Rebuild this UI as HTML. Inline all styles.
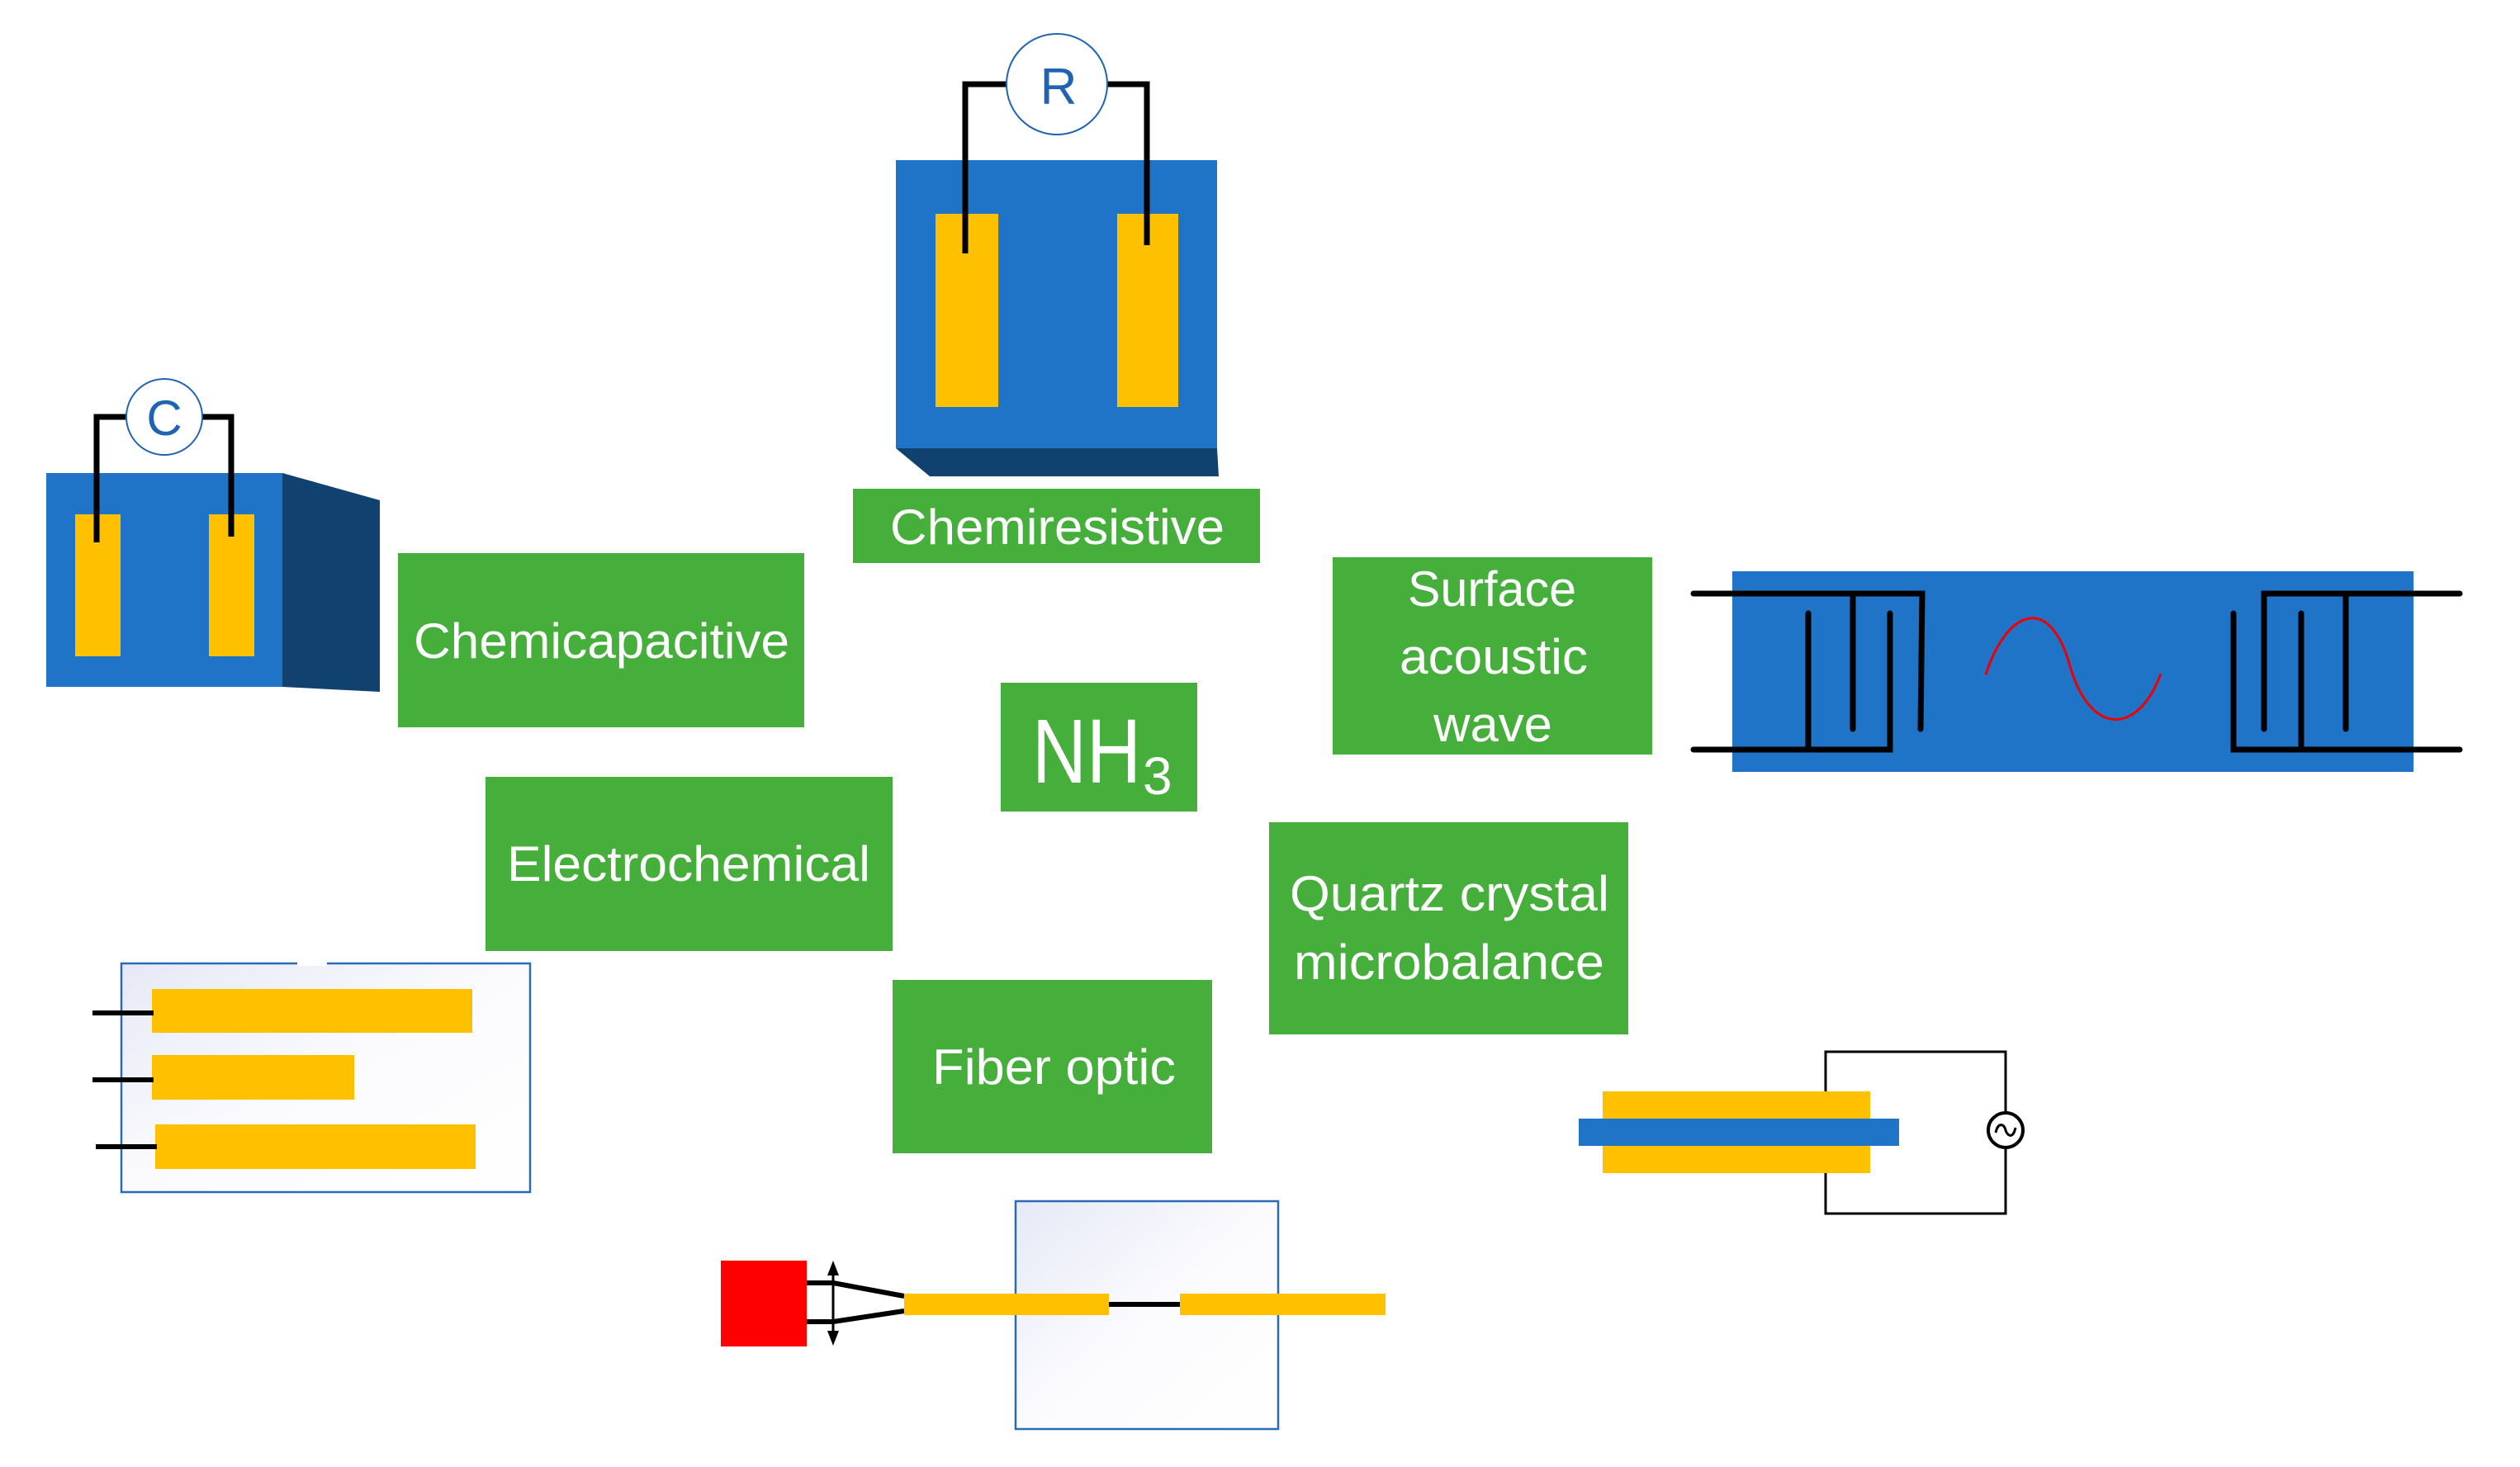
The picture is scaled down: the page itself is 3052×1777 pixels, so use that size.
<!DOCTYPE html>
<html><head><meta charset="utf-8"><style>html,body{margin:0;padding:0;background:#fff}svg{display:block}</style></head>
<body>
<svg width="3052" height="1777" viewBox="0 0 3052 1777" xmlns="http://www.w3.org/2000/svg" font-family="Liberation Sans, sans-serif">
<defs>
<linearGradient id="g" x1="0" y1="0" x2="1" y2="1"><stop offset="0" stop-color="#e6e9f6"/><stop offset="0.5" stop-color="#fbfbfe"/><stop offset="1" stop-color="#ffffff"/></linearGradient>
</defs>
<!-- Chemicapacitive sensor -->
<polygon points="342,573 460,606 460,838 342,832" fill="#10416f"/>
<rect x="56" y="573" width="286" height="259" fill="#1f74c8"/>
<rect x="91" y="623" width="55" height="172" fill="#ffc000"/>
<rect x="253" y="623" width="55" height="172" fill="#ffc000"/>
<polyline points="117,657 117,505 153,505" fill="none" stroke="#000" stroke-width="7"/>
<polyline points="280,650 280,505 245,505" fill="none" stroke="#000" stroke-width="7"/>
<circle cx="199" cy="505" r="46" fill="#fff" stroke="#1f64b4" stroke-width="2"/>
<text x="199" y="527" font-size="60" fill="#1f64b4" text-anchor="middle">C</text>
<!-- Chemiresistive sensor -->
<polygon points="1085,543 1474,543 1476,577 1126,577" fill="#10416f"/>
<rect x="1085" y="194" width="389" height="349" fill="#1f74c8"/>
<rect x="1133" y="259" width="76" height="234" fill="#ffc000"/>
<rect x="1353" y="259" width="74" height="234" fill="#ffc000"/>
<polyline points="1169,307 1169,102 1220,102" fill="none" stroke="#000" stroke-width="7"/>
<polyline points="1389,297 1389,102 1340,102" fill="none" stroke="#000" stroke-width="7"/>
<circle cx="1280" cy="102" r="61" fill="#fff" stroke="#1f64b4" stroke-width="2"/>
<text x="1282" y="126" font-size="62" fill="#1f64b4" text-anchor="middle">R</text>
<!-- Green labels -->
<g fill="#46af3c">
<rect x="1033" y="592" width="493" height="90"/>
<rect x="482" y="670" width="492" height="211"/>
<rect x="1212" y="827" width="238" height="156"/>
<rect x="1614" y="675" width="387" height="239"/>
<rect x="588" y="941" width="493" height="211"/>
<rect x="1537" y="996" width="435" height="257"/>
<rect x="1081" y="1187" width="387" height="210"/>
</g>
<g fill="#fff" font-size="60">
<text x="1078" y="659" textLength="405" lengthAdjust="spacingAndGlyphs">Chemiresistive</text>
<text x="501" y="797" textLength="455" lengthAdjust="spacingAndGlyphs">Chemicapacitive</text>
<text x="1705" y="734" textLength="204" lengthAdjust="spacingAndGlyphs">Surface</text>
<text x="1695" y="816" textLength="228" lengthAdjust="spacingAndGlyphs">acoustic</text>
<text x="1736" y="898" textLength="144" lengthAdjust="spacingAndGlyphs">wave</text>
<text x="614" y="1067" textLength="440" lengthAdjust="spacingAndGlyphs">Electrochemical</text>
<text x="1562" y="1103" textLength="387" lengthAdjust="spacingAndGlyphs">Quartz crystal</text>
<text x="1567" y="1186" textLength="376" lengthAdjust="spacingAndGlyphs">microbalance</text>
<text x="1129" y="1313" textLength="295" lengthAdjust="spacingAndGlyphs">Fiber optic</text>
<text x="1250" y="948" font-size="110" textLength="132" lengthAdjust="spacingAndGlyphs">NH</text>
<text x="1384" y="962" font-size="64">3</text>
</g>
<!-- SAW -->
<rect x="2098" y="692" width="825" height="243" fill="#1f74c8"/>
<g fill="none" stroke="#000" stroke-width="7" stroke-linecap="round">
<polyline points="2051,719 2328,719 2326,883"/>
<line x1="2244" y1="719" x2="2244" y2="883"/>
<polyline points="2051,908 2289,908 2289,743"/>
<line x1="2190" y1="743" x2="2190" y2="908"/>
<polyline points="2979,719 2742,719 2742,883"/>
<line x1="2841" y1="719" x2="2841" y2="883"/>
<polyline points="2979,908 2705,908 2705,743"/>
<line x1="2787" y1="743" x2="2787" y2="908"/>
</g>
<path d="M2405,817 C2430,740 2480,720 2505,800 C2530,895 2590,890 2617,816" fill="none" stroke="#e00" stroke-width="3"/>
<!-- QCM -->
<g fill="none" stroke="#000" stroke-width="3">
<polyline points="2211,1322 2211,1274 2429,1274 2429,1347"/>
<polyline points="2211,1421 2211,1470 2429,1470 2429,1391"/>
<circle cx="2429" cy="1369" r="21" stroke-width="4" fill="#fff"/>
<path d="M2417,1372 C2420,1358 2428,1362 2429,1369 C2431,1376 2438,1380 2441,1366"/>
</g>
<rect x="1941" y="1322" width="324" height="33" fill="#ffc000"/>
<rect x="1941" y="1388" width="324" height="33" fill="#ffc000"/>
<rect x="1912" y="1355" width="388" height="33" fill="#1f74c8"/>
<!-- Electrochemical sensor -->
<rect x="147" y="1167" width="495" height="277" fill="url(#g)" stroke="#2a6ab8" stroke-width="2.5"/>
<rect x="360" y="1164" width="36" height="6" fill="#fff"/>
<rect x="184" y="1198" width="388" height="53" fill="#ffc000"/>
<rect x="184" y="1278" width="245" height="54" fill="#ffc000"/>
<rect x="188" y="1362" width="388" height="54" fill="#ffc000"/>
<g stroke="#000" stroke-width="6">
<line x1="112" y1="1227" x2="186" y2="1227"/>
<line x1="112" y1="1308" x2="186" y2="1308"/>
<line x1="116" y1="1389" x2="190" y2="1389"/>
</g>
<!-- Fiber optic -->
<rect x="1230" y="1455" width="318" height="276" fill="url(#g)" stroke="#2a6ab8" stroke-width="2.5"/>
<rect x="873" y="1527" width="104" height="104" fill="#ff0000"/>
<g stroke="#000" stroke-width="6" fill="none">
<polyline points="977,1554 1009,1554 1095,1570"/>
<polyline points="977,1601 1009,1601 1095,1588"/>
<line x1="1343" y1="1580" x2="1429" y2="1580"/>
</g>
<line x1="1009" y1="1535" x2="1009" y2="1621" stroke="#000" stroke-width="3"/>
<polygon points="1009,1527 1002,1545 1016,1545" fill="#000"/>
<polygon points="1009,1630 1002,1612 1016,1612" fill="#000"/>
<rect x="1095" y="1567" width="248" height="26" fill="#ffc000"/>
<rect x="1429" y="1567" width="249" height="26" fill="#ffc000"/>
</svg>
</body></html>
